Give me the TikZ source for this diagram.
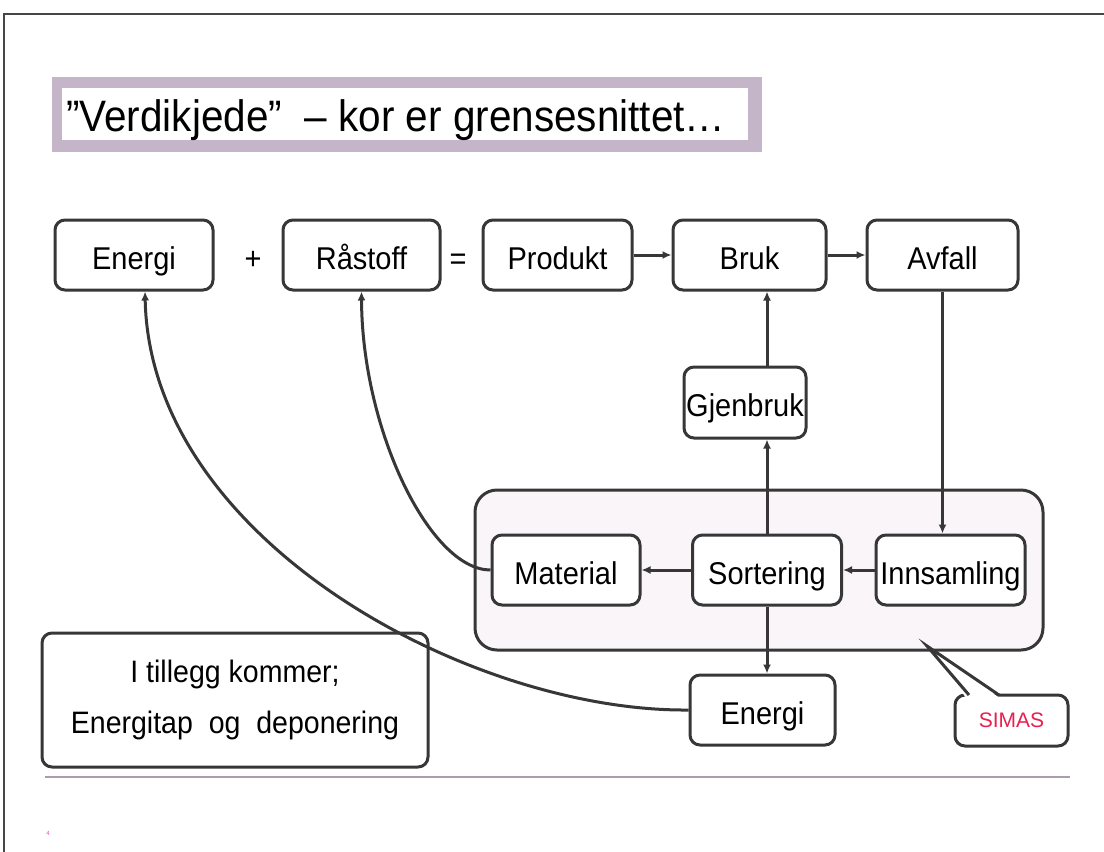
\documentclass[tikz,border=0pt]{standalone}
\usepackage{fontspec}
\setmainfont{Liberation Sans}
\newfontfamily\narrowfont[FakeStretch=0.92,Ligatures=TeX]{Liberation Sans}
\usetikzlibrary{arrows.meta}
\definecolor{boxgray}{RGB}{55,55,55}
\definecolor{framegray}{RGB}{70,70,70}
\definecolor{titlegray}{RGB}{196,182,200}
\definecolor{simasfill}{RGB}{249,245,249}
\definecolor{rulegray}{RGB}{175,155,175}
\definecolor{simasred}{RGB}{235,30,80}
\begin{document}
\begin{tikzpicture}[x=1pt,y=-1pt,
  box/.style={draw=boxgray,line width=3pt,rounded corners=10pt,fill=white,inner sep=0pt},
  lbl/.style={font=\narrowfont\fontsize{31.5}{38}\selectfont,text height=28pt,text depth=0pt},
  arr/.style={draw=boxgray,line width=3pt,-{Latex[length=9pt,width=8pt]}},
]
\useasboundingbox (0,0) rectangle (1104,852);
\fill[white] (0,0) rectangle (1104,852);
\draw[framegray,line width=2pt] (1104,14) -- (4,14) -- (4,852);

% title
\node[fill=titlegray,minimum width=710pt,minimum height=75pt,inner sep=0pt] (tframe) at (407,114.5) {};
\node[fill=white,minimum width=686pt,minimum height=52pt,inner sep=0pt] (tinner) at (405,114) {};
\node[anchor=base west,font=\narrowfont\fontsize{44}{50}\selectfont,inner sep=0pt] (title) at (66,131) {”Verdikjede”\ \ – kor er grensesnittet\ldots};

% SIMAS region
\node[draw=boxgray,line width=3pt,rounded corners=22pt,fill=simasfill,minimum width=568pt,minimum height=160pt,inner sep=0pt] (region) at (759,570) {};

% top row
\node[box,lbl,minimum width=158pt,minimum height=70pt] (E1) at (134,255) {Energi};
\node[lbl,inner sep=0pt] (plus) at (253,255) {+};
\node[box,lbl,minimum width=157pt,minimum height=70pt] (R) at (361.5,255) {Råstoff};
\node[lbl,inner sep=0pt] (eq) at (458,255) {=};
\node[box,lbl,minimum width=149pt,minimum height=70pt] (P) at (557.5,255) {Produkt};
\node[box,lbl,minimum width=153pt,minimum height=70pt] (B) at (749.5,255) {Bruk};
\node[box,lbl,minimum width=151pt,minimum height=70pt] (A) at (942.5,255) {Avfall};

\node[box,lbl,minimum width=122pt,minimum height=71pt] (G) at (745,402.5) {Gjenbruk};

\node[box,lbl,minimum width=148pt,minimum height=70pt] (M) at (566,570) {Material};
\node[box,lbl,minimum width=149pt,minimum height=70pt] (S) at (767,570) {Sortering};
\node[box,lbl,minimum width=149pt,minimum height=70pt] (I) at (950.5,570) {Innsamling};

\node[box,lbl,minimum width=145pt,minimum height=70pt] (E2) at (762.5,710) {Energi};

\node[box,minimum width=386pt,minimum height=134pt,align=center,font=\narrowfont\fontsize{31}{51}\selectfont] (T) at (235,700) {I tillegg kommer;\\Energitap\ \ og\ \ deponering};

% SIMAS callout
\node[box,minimum width=113pt,minimum height=51pt,font=\fontsize{21}{24}\selectfont,text=simasred] (SIMAS) at (1011.5,720.5) {SIMAS};
\coordinate (tip) at (927,646);
\fill[white] (967,699) -- (tip) -- (1001,699) -- cycle;
\draw[boxgray,line width=3pt,line join=miter] (969,695) -- (tip) -- (999,695);

% arrows
\draw[arr] (P.east) -- (B.west);
\draw[arr] (B.east) -- (A.west);
\draw[arr] (A.south) -- (A.south |- I.north);
\draw[arr] (I.west) -- (S.east);
\draw[arr] (S.west) -- (M.east);
\draw[arr] (S.north) -- (S.north |- G.south);
\draw[arr] (S.north |- G.north) -- (S.north |- B.south);
\draw[arr] (S.south) -- (S.south |- E2.north);
\draw[arr] (M.west) .. controls (430,570) and (362,430) .. (R.south);
\draw[arr] (E2.west) .. controls (470,712) and (150,540) .. ([xshift=11pt]E1.south);

% bottom rule and page mark
\draw[rulegray,line width=1.5pt] (45,777) -- (1070,777);
\node[text=magenta!70,font=\fontsize{6}{7}\selectfont,inner sep=0pt] (pg) at (48,833) {4};
\end{tikzpicture}
\end{document}
